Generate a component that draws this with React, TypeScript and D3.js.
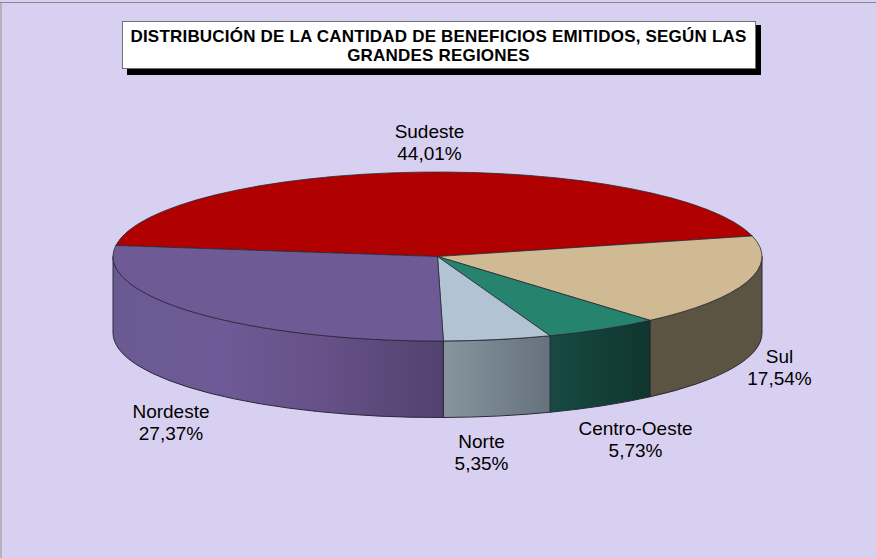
import React from "react";
import * as d3 from "d3";

const regions = ["Sudeste", "Sul", "Centro-Oeste", "Norte", "Nordeste"];
const shares = [44.01, 17.54, 5.73, 5.35, 27.37];
const shareLabels = ["44,01%", "17,54%", "5,73%", "5,35%", "27,37%"];
const topColors = ["#B00000", "#D0BA94", "#26836E", "#B2C3D3", "#6E5B96"];
const wallStops = [
  ["#800000", "#800000"],
  ["#5B5442", "#5B5442"],
  ["#174A42", "#0F352E"],
  ["#87959F", "#65727D"],
  ["#6A5A92", "#6E5A96", "#644F86", "#52426F"],
];
const labelAnchors: [number, number][] = [[429.5, 138], [779.5, 363], [635.5, 435], [481.5, 448], [171, 418]];
const titleLines = [
  "DISTRIBUCIÓN DE LA CANTIDAD DE BENEFICIOS EMITIDOS, SEGÚN LAS",
  "GRANDES REGIONES",
];

const cx = 437.5, cy = 256.5, rx = 324.5, ry = 84.5, depth = 76.5;
const toRad = Math.PI / 180;
const startDeg = -82.5;

const pie = d3.pie<number>().sort(null).startAngle(startDeg * toRad).endAngle((startDeg + 360) * toRad);
const arcs = pie(shares);
const px = (a: number) => cx + rx * Math.sin(a);
const py = (a: number) => cy - ry * Math.cos(a);

function topPath(a0: number, a1: number) {
  const large = a1 - a0 > Math.PI ? 1 : 0;
  return `M${cx},${cy}L${px(a0)},${py(a0)}A${rx},${ry} 0 ${large} 1 ${px(a1)},${py(a1)}Z`;
}
function wallPath(a0: number, a1: number) {
  const lo = Math.max(a0, Math.PI / 2);
  const hi = Math.min(a1, (3 * Math.PI) / 2);
  if (hi <= lo) return null;
  return `M${px(lo)},${py(lo)}A${rx},${ry} 0 0 1 ${px(hi)},${py(hi)}L${px(hi)},${py(hi) + depth}A${rx},${ry} 0 0 0 ${px(lo)},${py(lo) + depth}Z`;
}

const font = "'Liberation Sans', Arial, sans-serif";

export default function App() {
  return (
    <svg width={876} height={558} style={{ position: "absolute", left: 0, top: 0, display: "block" }}>
      <defs>
        {wallStops.map((stops, i) => (
          <linearGradient key={i} id={`wall${i}`} x1="0" x2="1" y1="0" y2="0">
            {stops.map((c, j) => (
              <stop key={j} offset={j / (stops.length - 1)} stopColor={c} />
            ))}
          </linearGradient>
        ))}
      </defs>
      <rect x={0} y={0} width={876} height={558} fill="#D8D0F0" />
      <rect x={0} y={2} width={876} height={1} fill="#8A8A8A" />
      <rect x={0} y={3} width={2} height={555} fill="#B5B2BD" />

      <rect x={127} y={25} width={634} height={50} fill="#000" />
      <rect x={122.5} y={21.5} width={633} height={47} fill="#fff" stroke="#707070" strokeWidth={1} />
      {titleLines.map((t, i) => (
        <text key={i} x={438.5} y={41.5 + i * 19.5} textAnchor="middle" fontFamily={font} fontWeight="bold" fontSize={17} letterSpacing={0.2} fill="#000">{t}</text>
      ))}

      {arcs.map((a, i) => {
        const d = wallPath(a.startAngle, a.endAngle);
        return d ? <path key={i} d={d} fill={`url(#wall${i})`} stroke="#2A2A38" strokeWidth={1} strokeLinejoin="round" /> : null;
      })}
      {arcs.map((a, i) => (
        <path key={i} d={topPath(a.startAngle, a.endAngle)} fill={topColors[i]} stroke="#2A2A38" strokeWidth={0.8} strokeLinejoin="round" />
      ))}

      {regions.map((r, i) => (
        <g key={r} fontFamily={font} fontSize={19} fill="#000" textAnchor="middle">
          <text x={labelAnchors[i][0]} y={labelAnchors[i][1]}>{r}</text>
          <text x={labelAnchors[i][0]} y={labelAnchors[i][1] + 22}>{shareLabels[i]}</text>
        </g>
      ))}
    </svg>
  );
}
